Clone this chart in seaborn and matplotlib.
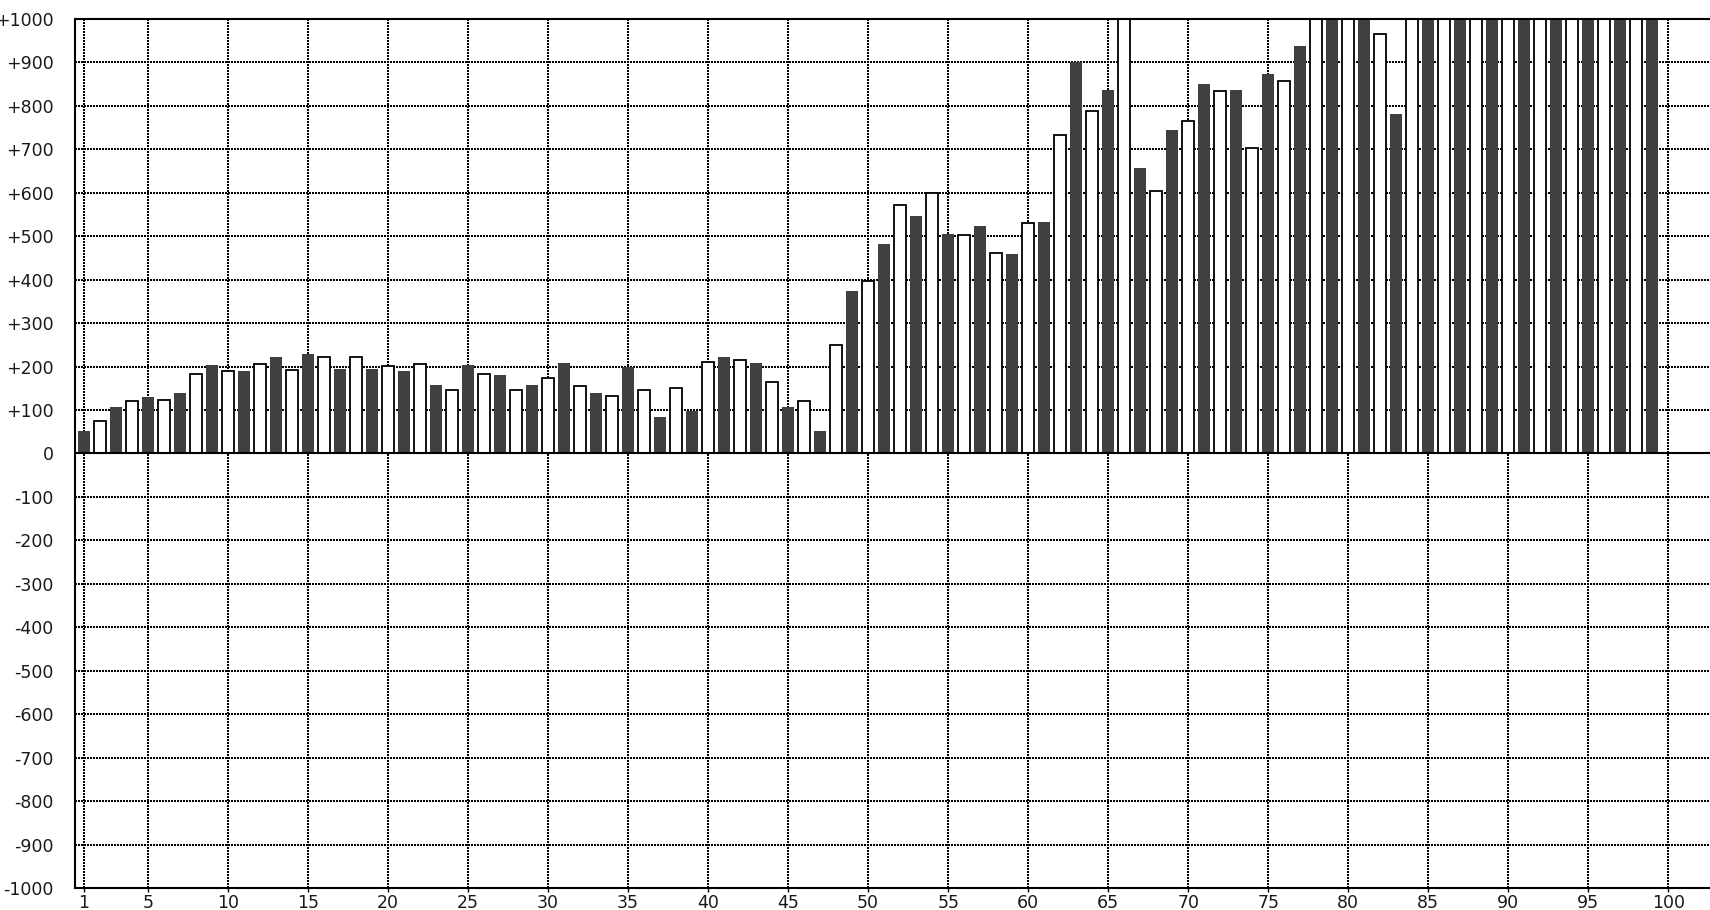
import numpy as np
import pandas as pd
from matplotlib import pyplot as plt
import seaborn as sns

# bar index (1..99) and value; bars that run off the top are set to 1000
positions = list(range(1, 100))
values = [
    52, 74, 107, 120, 130, 124, 140, 184, 203, 189,
    189, 206, 221, 192, 230, 221, 194, 221, 194, 202,
    189, 206, 157, 147, 203, 183, 180, 147, 157, 174,
    208, 156, 139, 133, 198, 147, 84, 151, 98, 211,
    221, 215, 208, 165, 107, 120, 52, 249, 375, 397,
    482, 572, 546, 600, 505, 503, 523, 462, 458, 531,
    532, 734, 902, 789, 837, 1000, 657, 605, 745, 766,
    851, 835, 837, 702, 874, 858, 938, 1000, 1000, 1000,
    1000, 965, 782, 1000, 1000, 1000, 1000, 1000, 1000, 1000,
    1000, 1000, 1000, 1000, 1000, 1000, 1000, 1000, 1000,
]
kinds = ['dark' if p % 2 == 1 else 'light' for p in positions]

x_ticks = [1] + list(range(5, 101, 5))
y_ticks = list(range(-1000, 1001, 100))
y_labels = [f'+{v}' if v > 0 else str(v) for v in y_ticks]

DARK = '#404040'


if __name__ == '__main__':
    df = pd.DataFrame({'pos': positions, 'value': values, 'kind': kinds})

    sns.set_style('white')
    plt.rcParams['font.family'] = ['DejaVu Sans']

    fig = plt.figure(figsize=(17.1, 9.1), dpi=100)
    ax = fig.add_axes([75 / 1710, 22 / 910, 1 - 75 / 1710, 869 / 910])

    sns.barplot(data=df, x='pos', y='value', hue='kind',
                palette={'dark': DARK, 'light': 'white'},
                native_scale=True, dodge=False, width=0.75,
                saturation=1, legend=False, ax=ax)

    for bar in ax.patches:
        fc = bar.get_facecolor()
        if fc[0] > 0.9:
            bar.set_edgecolor('black')
            bar.set_linewidth(1.3)
        else:
            bar.set_edgecolor('none')
            bar.set_linewidth(0)

    ax.set_xlim(0.44, 102.6)
    ax.set_ylim(-1000, 1000)
    ax.set_xticks(x_ticks)
    ax.set_xticklabels([str(t) for t in x_ticks])
    ax.set_yticks(y_ticks)
    ax.set_yticklabels(y_labels)
    ax.set_xlabel('')
    ax.set_ylabel('')

    # dotted grid, drawn crisp like the original
    ax.set_axisbelow(True)
    ax.grid(True, color='black', linestyle=(0, (1, 1)), linewidth=1.1,
            antialiased=False)
    ax.axhline(0, color='black', linewidth=1.5, zorder=3)

    for side in ['left', 'top', 'bottom']:
        ax.spines[side].set_visible(True)
        ax.spines[side].set_color('black')
        ax.spines[side].set_linewidth(1.5)
    ax.spines['right'].set_visible(False)

    ax.tick_params(axis='y', length=0, pad=15.5, labelsize=12.5, labelcolor='#1a1a1a')
    ax.tick_params(axis='x', length=3, width=1, pad=1, labelsize=12.5,
                   labelcolor='#1a1a1a', bottom=True, color='black')

    fig.savefig('out.png', dpi=100)
